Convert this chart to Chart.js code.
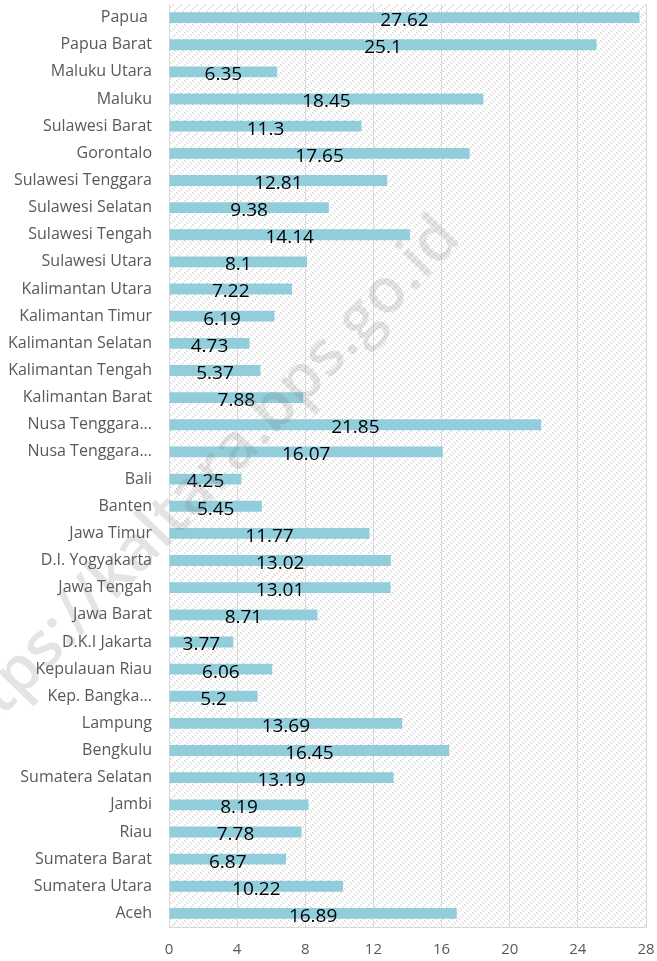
<!DOCTYPE html>
<html>
<head>
<meta charset="utf-8">
<script src="https://cdn.jsdelivr.net/npm/chart.js@4/dist/chart.umd.min.js"></script>
<style>
  html, body { margin: 0; padding: 0; background: #fff; }
  #wrap { width: 657px; height: 961px; }
</style>
</head>
<body>
<div id="wrap"><canvas id="chart" width="657" height="961"></canvas></div>
<script>
// provinsi, urut dari atas ke bawah
const provinsi = [
    'Papua ', 'Papua Barat', 'Maluku Utara', 'Maluku', 'Sulawesi Barat', 'Gorontalo',
    'Sulawesi Tenggara', 'Sulawesi Selatan', 'Sulawesi Tengah', 'Sulawesi Utara',
    'Kalimantan Utara', 'Kalimantan Timur', 'Kalimantan Selatan', 'Kalimantan Tengah',
    'Kalimantan Barat', 'Nusa Tenggara...', 'Nusa Tenggara...', 'Bali', 'Banten',
    'Jawa Timur', 'D.I. Yogyakarta', 'Jawa Tengah', 'Jawa Barat', 'D.K.I Jakarta',
    'Kepulauan Riau', 'Kep. Bangka...', 'Lampung', 'Bengkulu', 'Sumatera Selatan',
    'Jambi', 'Riau', 'Sumatera Barat', 'Sumatera Utara', 'Aceh'
];

const nilai = [
    27.62, 25.1, 6.35, 18.45, 11.3, 17.65,
    12.81, 9.38, 14.14, 8.1,
    7.22, 6.19, 4.73, 5.37,
    7.88, 21.85, 16.07, 4.25, 5.45,
    11.77, 13.02, 13.01, 8.71, 3.77,
    6.06, 5.2, 13.69, 16.45, 13.19,
    8.19, 7.78, 6.87, 10.22, 16.89
];

const sumbuX = { min: 0, max: 28, step: 4 };
const watermark = 'https://kaltara.bps.go.id';

// pola arsiran diagonal untuk latar area plot
function buatPola(ctx) {
    const tile = document.createElement('canvas');
    tile.width = 8;
    tile.height = 8;
    const t = tile.getContext('2d');
    t.fillStyle = '#cdcdcd';
    for (let k = 0; k < 8; k++) {
        if (k % 4 < 2) t.fillRect(k, k, 1, 1);
        else t.fillRect((k + 4) % 8, k, 1, 1);
    }
    return ctx.createPattern(tile, 'repeat');
}

const latarPlugin = {
    id: 'latar',
    beforeDraw(chart) {
        const { ctx, chartArea: a } = chart;
        ctx.save();
        ctx.fillStyle = buatPola(ctx);
        ctx.fillRect(a.left, a.top, a.right - a.left, a.bottom - a.top);
        ctx.restore();
    }
};

const labelPlugin = {
    id: 'labelNilai',
    afterDatasetsDraw(chart) {
        const ctx = chart.ctx;
        const meta = chart.getDatasetMeta(0);
        ctx.save();
        ctx.font = '19px "Open Sans"';
        ctx.fillStyle = '#000';
        ctx.textAlign = 'center';
        ctx.textBaseline = 'middle';
        meta.data.forEach((bar, i) => {
            const x = (bar.base + bar.x) / 2;
            ctx.fillText(String(nilai[i]), x, bar.y + 3);
        });
        ctx.restore();
    }
};

// tanda air miring: huruf "k" di sekitar (113,577), "d" di sekitar (440,245)
const watermarkPlugin = {
    id: 'watermark',
    afterDraw(chart) {
        const ctx = chart.ctx;
        const sudut = -46 * Math.PI / 180;
        ctx.save();
        ctx.font = '600 100px "Open Sans"';
        const target = Math.hypot(440 - 113, 577 - 245);
        const w100 = ctx.measureText('kaltara.bps.go.id').width
            - ctx.measureText('k').width / 2 - ctx.measureText('d').width / 2;
        const ukuran = 100 * target / w100;
        ctx.font = '600 ' + ukuran + 'px "Open Sans"';
        const geser = ctx.measureText('https://').width + ctx.measureText('k').width / 2;
        const ox = 113 - Math.cos(sudut) * geser;
        const oy = 577 - Math.sin(sudut) * geser;
        ctx.translate(ox, oy);
        ctx.rotate(sudut);
        ctx.fillStyle = 'rgba(120,120,120,0.2)';
        ctx.textAlign = 'left';
        ctx.textBaseline = 'middle';
        ctx.fillText(watermark, 0, 0);
        ctx.restore();
    }
};

const ctx = document.getElementById('chart').getContext('2d');
new Chart(ctx, {
    type: 'bar',
    data: {
        labels: provinsi,
        datasets: [{
            data: nilai,
            backgroundColor: '#92cddc',
            barPercentage: 0.8,
            categoryPercentage: 0.5
        }]
    },
    options: {
        indexAxis: 'y',
        responsive: false,
        animation: false,
        layout: { padding: { top: 4, right: 11, bottom: 0, left: 0 } },
        plugins: {
            legend: { display: false },
            tooltip: { enabled: false }
        },
        scales: {
            x: {
                min: sumbuX.min,
                max: sumbuX.max,
                ticks: {
                    stepSize: sumbuX.step,
                    color: '#595959',
                    font: { family: 'Open Sans', size: 15 },
                    padding: 14
                },
                grid: { color: '#d9d9d9', drawTicks: false },
                border: { color: '#d9d9d9' },
                afterFit(s) {
                    s.height = 34;
                    s.paddingLeft = 0;
                    s.paddingRight = 0;
                }
            },
            y: {
                ticks: {
                    color: '#595959',
                    font: { family: 'Open Sans', size: 16 },
                    padding: 17,
                    autoSkip: false
                },
                grid: { display: false, drawTicks: false },
                border: { display: false },
                afterFit(s) {
                    s.width = 169;
                    s.paddingTop = 0;
                    s.paddingBottom = 0;
                }
            }
        }
    },
    plugins: [latarPlugin, labelPlugin, watermarkPlugin]
});
</script>
</body>
</html>
